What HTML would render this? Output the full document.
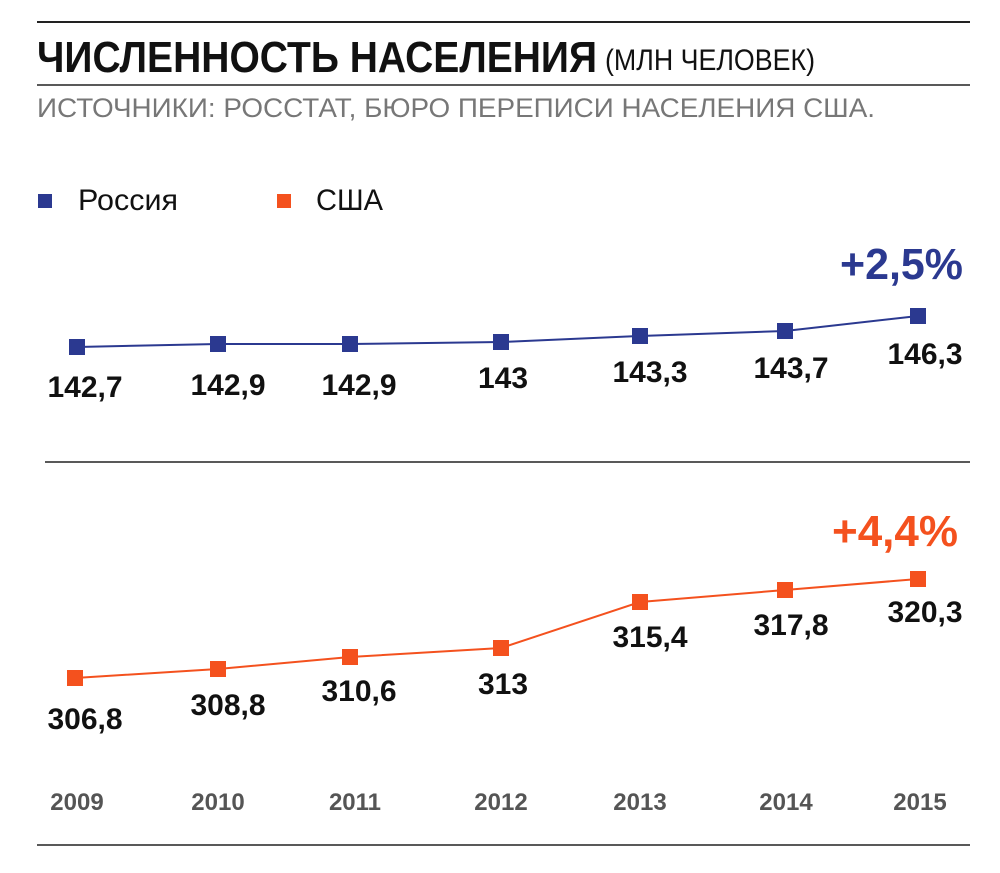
<!DOCTYPE html>
<html><head><meta charset="utf-8"><style>
html,body{margin:0;padding:0;background:#fff;}
svg{display:block;}
text{font-family:"Liberation Sans Narrow","Liberation Sans",sans-serif;}
.b{font-weight:bold;}
</style></head><body>
<svg width="1000" height="873" viewBox="0 0 1000 873" xmlns="http://www.w3.org/2000/svg">
<line x1="37" y1="22" x2="970" y2="22" stroke="#222" stroke-width="2"/>
<text x="37" y="72" class="b" font-size="44" fill="#111" textLength="560" lengthAdjust="spacingAndGlyphs">ЧИСЛЕННОСТЬ НАСЕЛЕНИЯ</text>
<text x="605" y="70" font-size="30" fill="#111" textLength="210" lengthAdjust="spacingAndGlyphs">(МЛН ЧЕЛОВЕК)</text>
<line x1="37" y1="85" x2="970" y2="85" stroke="#222" stroke-width="1.5"/>
<text x="37" y="117" font-size="27" fill="#777" textLength="838" lengthAdjust="spacingAndGlyphs">ИСТОЧНИКИ: РОССТАТ, БЮРО ПЕРЕПИСИ НАСЕЛЕНИЯ США.</text>

<rect x="38" y="194" width="14" height="14" fill="#2b3990"/>
<text x="78" y="210" font-size="30" fill="#111" textLength="100" lengthAdjust="spacingAndGlyphs">Россия</text>
<rect x="277" y="194" width="14" height="14" fill="#f4511e"/>
<text x="316" y="210" font-size="30" fill="#111" textLength="67" lengthAdjust="spacingAndGlyphs">США</text>

<text x="840" y="279" class="b" font-size="44" fill="#2b3990" textLength="123" lengthAdjust="spacingAndGlyphs">+2,5%</text>
<polyline points="77,347 218,344 350,344 501,342 640,336 785,331 918,316" fill="none" stroke="#2b3990" stroke-width="2"/>
<g fill="#2b3990">
<rect x="69" y="339" width="16" height="16"/><rect x="210" y="336" width="16" height="16"/><rect x="342" y="336" width="16" height="16"/><rect x="493" y="334" width="16" height="16"/><rect x="632" y="328" width="16" height="16"/><rect x="777" y="323" width="16" height="16"/><rect x="910" y="308" width="16" height="16"/>
</g>
<g class="b" font-size="30" fill="#111" text-anchor="middle">
<text x="85" y="397">142,7</text><text x="228" y="395">142,9</text><text x="359" y="395">142,9</text><text x="503" y="388">143</text><text x="650" y="382">143,3</text><text x="791" y="378">143,7</text><text x="925" y="364">146,3</text>
</g>

<line x1="45" y1="462" x2="970" y2="462" stroke="#222" stroke-width="1.5"/>

<text x="832" y="546" class="b" font-size="44" fill="#f4511e" textLength="126" lengthAdjust="spacingAndGlyphs">+4,4%</text>
<polyline points="75,678 218,669 350,657 501,648 640,602 785,590 918,579" fill="none" stroke="#f4511e" stroke-width="2"/>
<g fill="#f4511e">
<rect x="67" y="670" width="16" height="16"/><rect x="210" y="661" width="16" height="16"/><rect x="342" y="649" width="16" height="16"/><rect x="493" y="640" width="16" height="16"/><rect x="632" y="594" width="16" height="16"/><rect x="777" y="582" width="16" height="16"/><rect x="910" y="571" width="16" height="16"/>
</g>
<g class="b" font-size="30" fill="#111" text-anchor="middle">
<text x="85" y="729">306,8</text><text x="228" y="715">308,8</text><text x="359" y="701">310,6</text><text x="503" y="694">313</text><text x="650" y="647">315,4</text><text x="791" y="635">317,8</text><text x="925" y="622">320,3</text>
</g>

<g class="b" font-size="24" fill="#555" text-anchor="middle">
<text x="77" y="810">2009</text><text x="218" y="810">2010</text><text x="355" y="810">2011</text><text x="501" y="810">2012</text><text x="640" y="810">2013</text><text x="786" y="810">2014</text><text x="920" y="810">2015</text>
</g>
<line x1="37" y1="845" x2="970" y2="845" stroke="#222" stroke-width="1.5"/>
</svg>
</body></html>
